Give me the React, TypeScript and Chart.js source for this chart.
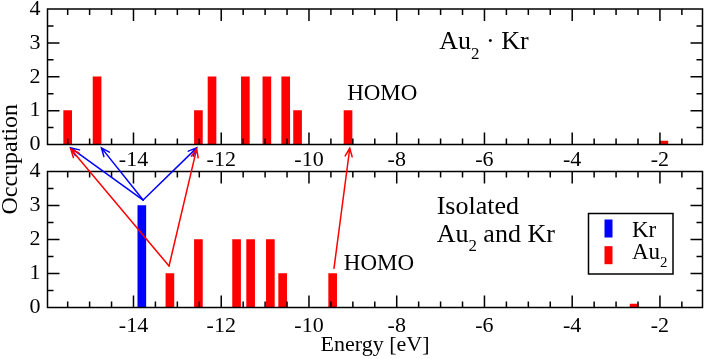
import { useEffect, useRef } from 'react';
import { Chart, registerables } from 'chart.js';

Chart.register(...registerables);

// ---------- data ----------
const X_TICKS = [-14, -12, -10, -8, -6, -4, -2];
const Y_TICKS = [0, 1, 2, 3, 4];
const X_MIN = -15.96;
const X_MAX = -1.03;
const Y_MIN = 0;
const Y_MAX = 4;

// Upper panel: Au2 · Kr complex
const TOP_AU2_ENERGY = [-15.5, -14.83, -12.52, -12.21, -11.45, -10.96, -10.53, -10.26, -9.11, -1.91];
const TOP_AU2_OCC = [1, 2, 1, 2, 2, 2, 2, 1, 1, 0.1];

// Lower panel: isolated Au2 and Kr
const BOT_KR_ENERGY = [-13.81];
const BOT_KR_OCC = [3];
const BOT_AU2_ENERGY = [-13.17, -12.52, -11.65, -11.33, -10.88, -10.6, -9.46, -2.59];
const BOT_AU2_OCC = [1, 2, 2, 2, 2, 1, 1, 0.1];

// Correlation arrows: start in lower panel, tip in upper panel (data units)
const ARROW_FROM_X = [-13.78, -13.78, -13.78, -13.19, -13.19, -9.43];
const ARROW_FROM_Y = [3.16, 3.16, 3.16, 1.22, 1.22, 1.15];
const ARROW_TO_X = [-15.43, -14.73, -12.56, -15.43, -12.56, -9.07];
const ARROW_TO_Y = [-0.1, -0.1, -0.1, -0.13, -0.13, -0.11];
const ARROW_SERIES = ['Kr', 'Kr', 'Kr', 'Au2', 'Au2', 'Au2'];

const SERIES_LABELS = ['Kr', 'Au2'];

// ---------- styles ----------
const FONT = "'Liberation Serif', 'Times New Roman', serif";
const RED = '#ff0000';
const BLUE = '#0000ff';
const COLOR_OF: Record<string, string> = { Kr: BLUE, Au2: RED };

type Part = [string, boolean];

function drawRich(ctx: CanvasRenderingContext2D, parts: Part[], x: number, y: number, size: number) {
  let cx = x;
  ctx.textAlign = 'left';
  ctx.textBaseline = 'alphabetic';
  ctx.fillStyle = '#000';
  for (const [t, sub] of parts) {
    const fs = sub ? size * 0.65 : size;
    ctx.font = `${fs}px ${FONT}`;
    ctx.fillText(t, cx, sub ? y + size * 0.38 : y);
    cx += ctx.measureText(t).width;
  }
}

function labelParts(label: string): Part[] {
  const m = label.match(/^(.*?)(\d+)$/);
  return m ? [[m[1], false], [m[2], true]] : [[label, false]];
}

function drawFrame(chart: any) {
  const { ctx, chartArea: a, scales } = chart;
  const xs = scales.x;
  const ys = scales.y;
  ctx.save();
  ctx.strokeStyle = '#000';
  ctx.lineWidth = 1.5;
  ctx.beginPath();
  for (let v = Math.ceil(xs.min * 2) / 2; v <= xs.max + 1e-9; v += 0.5) {
    const major = X_TICKS.some((t) => Math.abs(t - v) < 1e-6) || Math.abs(v / 2 - Math.round(v / 2)) < 1e-6;
    const len = major ? 12 : 6;
    const px = xs.getPixelForValue(v);
    ctx.moveTo(px, a.bottom);
    ctx.lineTo(px, a.bottom - len);
    ctx.moveTo(px, a.top);
    ctx.lineTo(px, a.top + len);
  }
  for (let v = ys.min + 0.5; v < ys.max - 1e-9; v += 0.5) {
    const major = Math.abs(v - Math.round(v)) < 1e-6;
    const len = major ? 12 : 6;
    const py = ys.getPixelForValue(v);
    ctx.moveTo(a.left, py);
    ctx.lineTo(a.left + len, py);
    ctx.moveTo(a.right, py);
    ctx.lineTo(a.right - len, py);
  }
  ctx.stroke();
  ctx.strokeRect(a.left, a.top, a.right - a.left, a.bottom - a.top);
  ctx.restore();
}

function axisOptions(xHeight: number, xPad: number, withTitle: boolean) {
  const tickFont = { family: FONT, size: 22 };
  return {
    x: {
      type: 'linear' as const,
      min: X_MIN,
      max: X_MAX,
      offset: false,
      grid: { display: false, drawTicks: false, tickLength: 0 },
      border: { display: false },
      ticks: { font: tickFont, color: '#000', padding: xPad, maxRotation: 0, callback: (v: any) => String(v) },
      afterBuildTicks: (s: any) => {
        s.ticks = X_TICKS.map((v) => ({ value: v }));
      },
      afterFit: (s: any) => {
        s.height = xHeight;
        s.paddingLeft = 0;
        s.paddingRight = 0;
      },
      title: {
        display: withTitle,
        text: 'Energy [eV]',
        color: '#000',
        font: { family: FONT, size: 22 },
        padding: { top: 0, bottom: 1 },
      },
    },
    y: {
      type: 'linear' as const,
      min: Y_MIN,
      max: Y_MAX,
      grid: { display: false, drawTicks: false, tickLength: 0 },
      border: { display: false },
      ticks: { font: tickFont, color: '#000', padding: 7, callback: (v: any) => String(v) },
      afterBuildTicks: (s: any) => {
        s.ticks = Y_TICKS.map((v) => ({ value: v }));
      },
      afterFit: (s: any) => {
        s.width = 47.5;
        s.paddingTop = 0;
        s.paddingBottom = 0;
      },
    },
  };
}

function barDataset(label: string, xs: number[], ys: number[]) {
  return {
    label,
    data: xs.map((x, i) => ({ x, y: ys[i] })),
    backgroundColor: COLOR_OF[label],
    borderWidth: 0,
    barThickness: 8,
    grouped: false,
  };
}

export default function App() {
  const topRef = useRef<HTMLCanvasElement>(null);
  const botRef = useRef<HTMLCanvasElement>(null);

  useEffect(() => {
    const H = 359;

    const topPlugin = {
      id: 'topDecor',
      afterDraw(chart: any) {
        drawFrame(chart);
        const { ctx, scales } = chart;
        ctx.save();
        drawRich(ctx, [['HOMO', false]], scales.x.getPixelForValue(-9.13), scales.y.getPixelForValue(1.31), 23);
        drawRich(
          ctx,
          [['Au', false], ['2', true], [' · Kr', false]],
          scales.x.getPixelForValue(-7.03),
          scales.y.getPixelForValue(2.82),
          26,
        );
        ctx.restore();
      },
    };

    const top = new Chart(topRef.current as HTMLCanvasElement, {
      type: 'bar',
      data: { datasets: [barDataset('Au2', TOP_AU2_ENERGY, TOP_AU2_OCC)] as any },
      options: {
        responsive: false,
        animation: false,
        devicePixelRatio: 1,
        events: [],
        layout: { autoPadding: false, padding: { left: 0, top: 9, right: 3.5, bottom: H - 144.5 - 30 } },
        plugins: { legend: { display: false }, tooltip: { enabled: false } },
        scales: axisOptions(30, 2.3, false) as any,
      } as any,
      plugins: [topPlugin],
    });

    const botPlugin = {
      id: 'botDecor',
      afterDraw(chart: any) {
        drawFrame(chart);
        const { ctx, scales, chartArea: a } = chart;
        const xs = scales.x;
        const yb = scales.y;
        const yt = top.scales.y;
        ctx.save();
        // panel annotations
        drawRich(ctx, [['HOMO', false]], xs.getPixelForValue(-9.205), yb.getPixelForValue(1.1), 23);
        drawRich(ctx, [['Isolated', false]], xs.getPixelForValue(-7.09), yb.getPixelForValue(2.74), 26);
        drawRich(
          ctx,
          [['Au', false], ['2', true], [' and Kr', false]],
          xs.getPixelForValue(-7.09),
          yb.getPixelForValue(1.94),
          26,
        );
        // y-axis title spanning both panels
        ctx.save();
        ctx.translate(17, (yt.top + yb.bottom) / 2 + 1);
        ctx.rotate(-Math.PI / 2);
        ctx.font = `24px ${FONT}`;
        ctx.textAlign = 'center';
        ctx.textBaseline = 'alphabetic';
        ctx.fillStyle = '#000';
        ctx.fillText('Occupation', 0, 0);
        ctx.restore();

        // arrows
        ctx.lineWidth = 1.5;
        ctx.lineCap = 'round';
        for (let i = 0; i < ARROW_FROM_X.length; i++) {
          const x0 = xs.getPixelForValue(ARROW_FROM_X[i]);
          const y0 = yb.getPixelForValue(ARROW_FROM_Y[i]);
          const x1 = xs.getPixelForValue(ARROW_TO_X[i]);
          const y1 = yt.getPixelForValue(ARROW_TO_Y[i]);
          const col = COLOR_OF[ARROW_SERIES[i]];
          ctx.strokeStyle = col;
          ctx.beginPath();
          ctx.moveTo(x0, y0);
          ctx.lineTo(x1, y1);
          const ang = Math.atan2(y1 - y0, x1 - x0);
          const hl = 9;
          const hw = 0.4;
          ctx.moveTo(x1 - hl * Math.cos(ang - hw), y1 - hl * Math.sin(ang - hw));
          ctx.lineTo(x1, y1);
          ctx.lineTo(x1 - hl * Math.cos(ang + hw), y1 - hl * Math.sin(ang + hw));
          ctx.stroke();
        }

        // legend box
        const lx = a.right - 114;
        const ly = a.top + 42;
        const lw = 84.5;
        const lh = 60.5;
        ctx.strokeStyle = '#000';
        ctx.lineWidth = 1.5;
        ctx.strokeRect(lx, ly, lw, lh);
        chart.data.datasets.forEach((ds: any, i: number) => {
          ctx.fillStyle = ds.backgroundColor;
          ctx.fillRect(lx + 16, ly + 6 + i * 26.7, 8, 18);
          drawRich(ctx, labelParts(ds.label), lx + 43.5, ly + 23.5 + i * 21.7, 23);
        });
        ctx.restore();
      },
    };

    const bot = new Chart(botRef.current as HTMLCanvasElement, {
      type: 'bar',
      data: {
        datasets: [
          barDataset(SERIES_LABELS[0], BOT_KR_ENERGY, BOT_KR_OCC),
          barDataset(SERIES_LABELS[1], BOT_AU2_ENERGY, BOT_AU2_OCC),
        ] as any,
      },
      options: {
        responsive: false,
        animation: false,
        devicePixelRatio: 1,
        events: [],
        layout: { autoPadding: false, padding: { left: 0, top: 171.5, right: 3.5, bottom: 0 } },
        plugins: { legend: { display: false }, tooltip: { enabled: false } },
        scales: axisOptions(H - 307.5, 5.6, true) as any,
      } as any,
      plugins: [botPlugin],
    });

    return () => {
      bot.destroy();
      top.destroy();
    };
  }, []);

  return (
    <div style={{ position: 'absolute', left: 0, top: 0, width: 706, height: 359, background: '#fff' }}>
      <canvas ref={topRef} width={706} height={359} style={{ position: 'absolute', left: 0, top: 0 }} />
      <canvas ref={botRef} width={706} height={359} style={{ position: 'absolute', left: 0, top: 0 }} />
    </div>
  );
}
